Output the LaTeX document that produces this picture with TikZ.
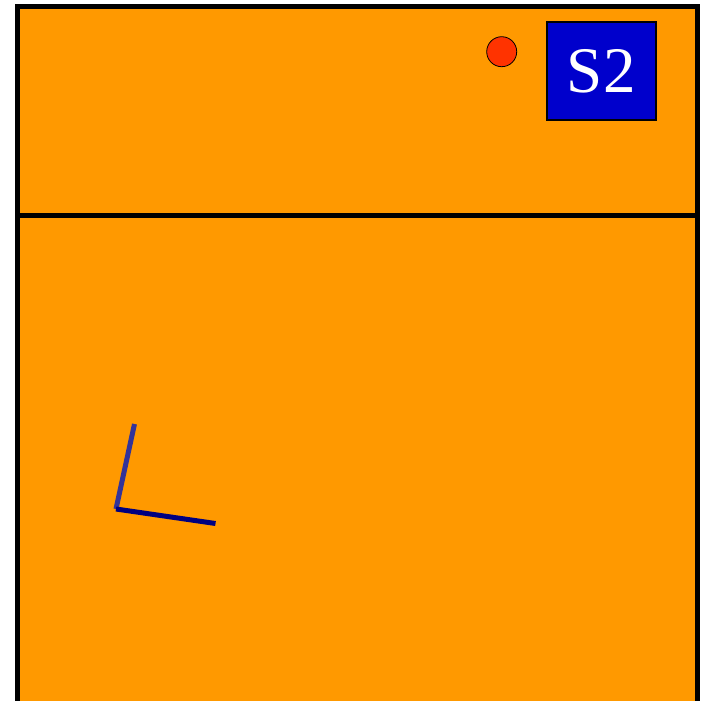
\documentclass[tikz,border=0pt]{standalone}
\usepackage{fontspec}
\setmainfont{Liberation Serif}
\usetikzlibrary{positioning}
\definecolor{field}{HTML}{FF9900}
\definecolor{sblue}{HTML}{0000CC}
\definecolor{ballred}{HTML}{FF3300}
\definecolor{axisa}{HTML}{333399}
\definecolor{axisb}{HTML}{000080}

\begin{document}
\begin{tikzpicture}[
    x=1pt,y=-1pt,
    frame/.style={line width=5pt},
    sbox/.style={draw,line width=2pt,fill=sblue,text=white,minimum width=108.7pt,minimum height=98.3pt,inner sep=0pt,font=\fontsize{65}{65}\selectfont},
    ball/.style={circle,draw,line width=0.8pt,fill=ballred,minimum size=30pt,inner sep=0pt},
    axis/.style={line width=5pt}
]
\useasboundingbox (0,0) rectangle (704,701);
\begin{scope}
  \clip (0,0) rectangle (704,701);
  \fill[field] (17.5,7) rectangle (697.5,710);
  \draw[frame] (17.5,710) -- (17.5,7) -- (697.5,7) -- (697.5,710);
  \draw[frame] (17.5,215) -- (697.5,215);
\end{scope}

\node[sbox] (s2) at (601.3,70.9) {S2};
\node[ball] (ball) at (501.7,51.7) {};

\coordinate (corner) at (116,509);
\coordinate (tipa) at (134.5,424);
\coordinate (tipb) at (215.5,523.5);
\draw[axis,draw=axisa] (corner) -- (tipa);
\draw[axis,draw=axisb] (corner) -- (tipb);
\end{tikzpicture}
\end{document}
